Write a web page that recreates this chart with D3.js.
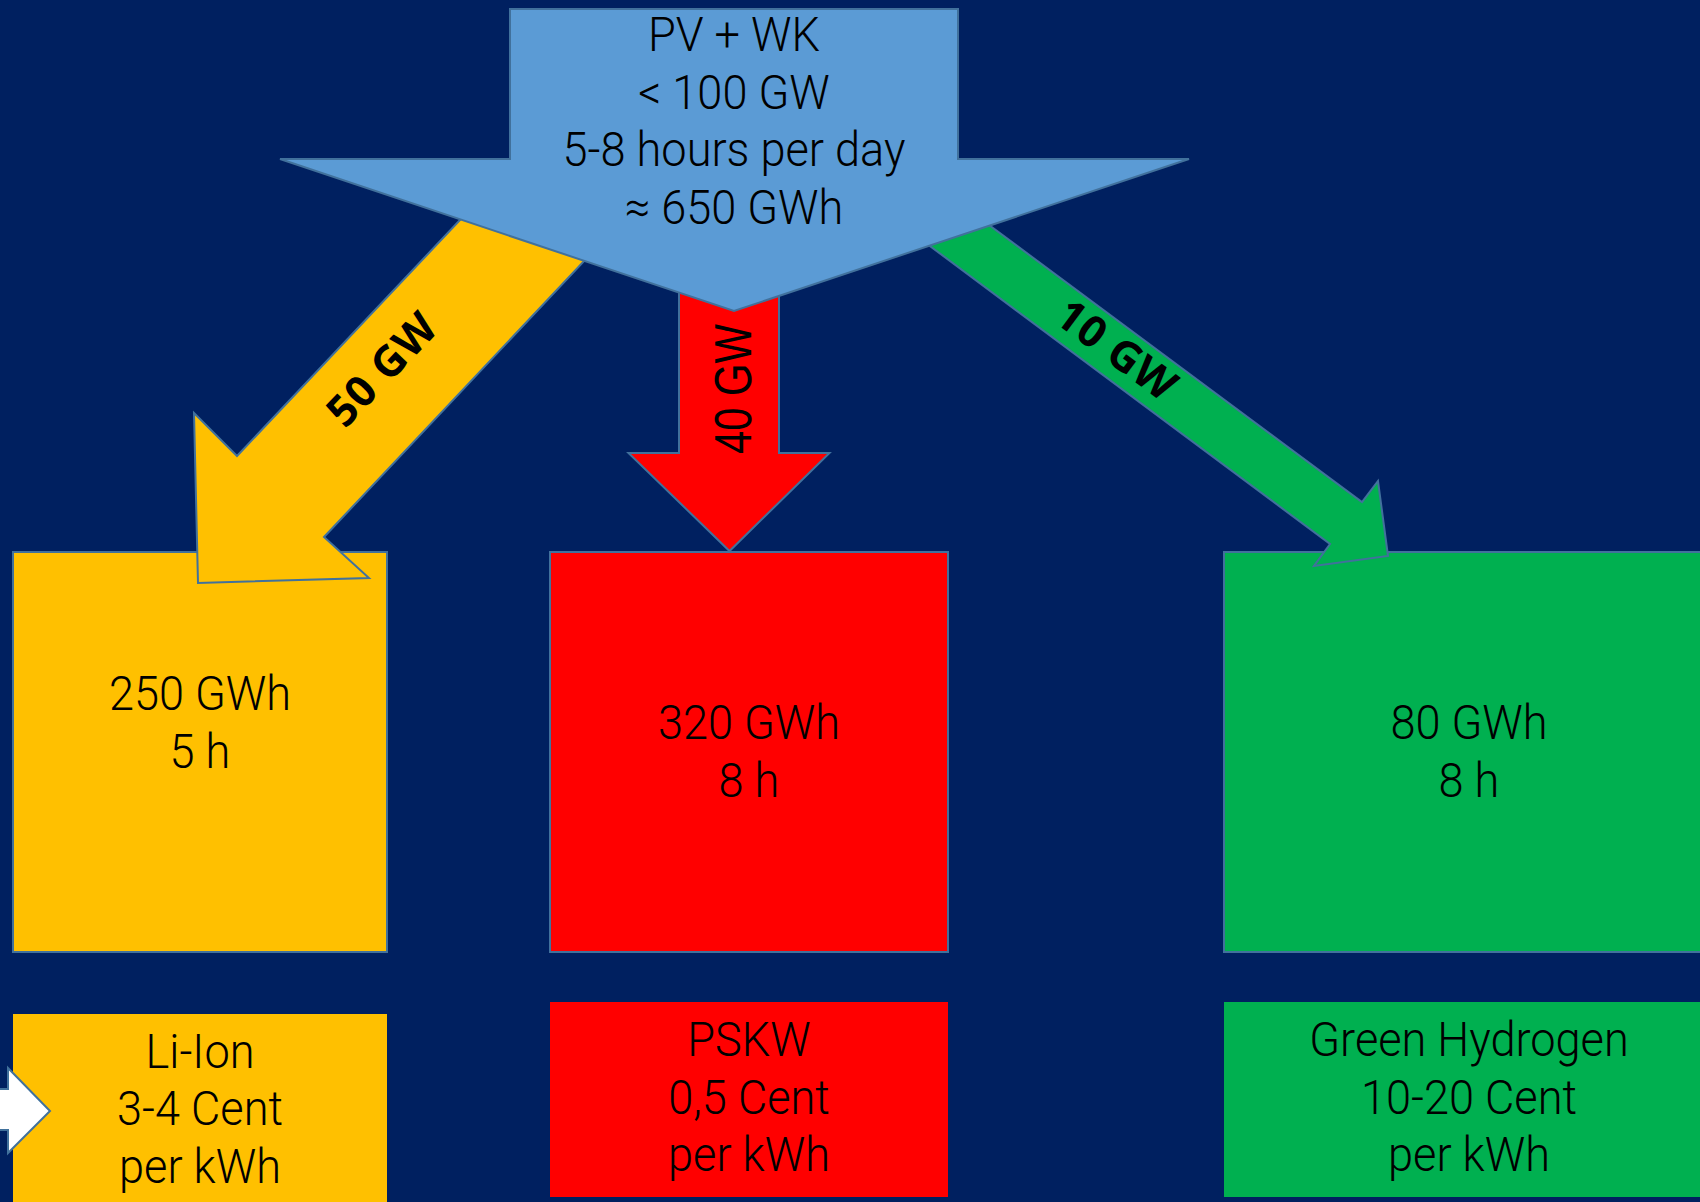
<!DOCTYPE html>
<html>
<head>
<meta charset="utf-8">
<script src="https://cdn.jsdelivr.net/npm/d3@7"></script>
<style>
  html, body { margin: 0; padding: 0; background: #002060; overflow: hidden; }
  svg { display: block; }
</style>
</head>
<body>
<div id="chart"></div>
<script>
// ---- data ----
const sourceLines = ["PV + WK", "< 100 GW", "5-8 hours per day", "≈ 650 GWh"];
const techs = ["Li-Ion", "PSKW", "Green Hydrogen"];
const flowGW = [50, 40, 10];
const storageGWh = [250, 320, 80];
const storageHours = [5, 8, 8];
const costs = ["3-4 Cent", "0,5 Cent", "10-20 Cent"];
const techColors = ["#FFC000", "#FF0000", "#00B050"];

// ---- layout (pixels) ----
const W = 1700, H = 1202;
const outline = "#41719C";
const lineH = 57.5;

const color = d3.scaleOrdinal().domain(techs).range(techColors);
const colX0 = d3.scaleOrdinal().domain(techs).range([13, 550, 1224]);
const colX1 = d3.scaleOrdinal().domain(techs).range([387, 948, 1712]);
const textX = d3.scaleOrdinal().domain(techs).range([200, 749, 1469]);
const storeTextY = d3.scaleOrdinal().domain(techs).range([710, 739, 739]);
const costTop = d3.scaleOrdinal().domain(techs).range([1014, 1002, 1002]);
const costTextY = d3.scaleOrdinal().domain(techs).range([1067.5, 1056, 1056]);

// arrow outlines
const flowShapes = [
  [[494, 184], [237, 456], [194, 413], [198, 583], [369, 578], [324, 537], [618, 225]],
  [[679, 280], [679, 453], [628.5, 453], [729.5, 551], [829.5, 453], [779, 453], [779, 280]],
  [[958, 202], [1362, 502], [1378, 481], [1388, 556], [1314, 566], [1330, 544], [899, 223]]
];
const flowLabel = [
  {x: 382, y: 369, angle: -46.4},
  {x: 733, y: 389, angle: -90},
  {x: 1117, y: 350, angle: 36.6}
];
const sourceShape = [[510, 9], [958, 9], [958, 159], [1189, 159], [734, 311], [280, 159], [510, 159]];
const whiteArrow = [[-5, 1089], [8, 1089], [8, 1068], [50, 1111], [8, 1153], [8, 1130], [-5, 1130]];

const svg = d3.select("#chart").append("svg")
  .attr("width", W)
  .attr("height", H);

svg.append("rect").attr("width", W).attr("height", H).attr("fill", "#002060");

const poly = d3.line();
const shape = pts => poly(pts) + "Z";

function lines(g, arr, cx, y0) {
  arr.forEach((t, i) => {
    g.append("text")
      .attr("transform", `translate(${cx},${y0 + i * lineH}) scale(0.94,1)`)
      .attr("text-anchor", "middle")
      .attr("font-family", "Roboto, 'Noto Sans', sans-serif")
      .attr("font-weight", 300)
      .attr("font-size", 48)
      .attr("fill", "#000")
      .text(t);
  });
}

// storage boxes
const store = svg.append("g");
techs.forEach((t, i) => {
  store.append("rect")
    .attr("x", colX0(t))
    .attr("y", 552)
    .attr("width", colX1(t) - colX0(t))
    .attr("height", 400)
    .attr("fill", color(t))
    .attr("stroke", outline)
    .attr("stroke-width", 2);
  lines(store, [`${storageGWh[i]} GWh`, `${storageHours[i]} h`], textX(t), storeTextY(t));
});

// cost boxes
const cost = svg.append("g");
techs.forEach((t, i) => {
  cost.append("rect")
    .attr("x", colX0(t))
    .attr("y", costTop(t))
    .attr("width", colX1(t) - colX0(t))
    .attr("height", 195)
    .attr("fill", color(t));
  lines(cost, [t, costs[i], "per kWh"], textX(t), costTextY(t));
});

// white arrow at left edge
svg.append("path")
  .attr("d", shape(whiteArrow))
  .attr("fill", "#fff")
  .attr("stroke", outline)
  .attr("stroke-width", 2);

// flow arrows
const flows = svg.append("g");
techs.forEach((t, i) => {
  flows.append("path")
    .attr("d", shape(flowShapes[i]))
    .attr("fill", color(t))
    .attr("stroke", outline)
    .attr("stroke-width", 2)
    .attr("stroke-linejoin", "miter");
  const l = flowLabel[i];
  const txt = flows.append("text")
    .attr("text-anchor", "middle")
    .attr("dy", "0.35em")
    .attr("fill", "#000")
    .text(`${flowGW[i]} GW`);
  if (i === 1) {
    txt.attr("transform", `translate(${l.x},${l.y}) rotate(${l.angle}) scale(0.82,1)`)
      .attr("font-family", "'Liberation Sans', Arial, sans-serif")
      .attr("font-size", 51);
  } else {
    txt.attr("transform", `translate(${l.x},${l.y}) rotate(${l.angle})`)
      .attr("font-family", "'Open Sans', sans-serif")
      .attr("font-weight", 700)
      .attr("font-size", 43)
      .attr("letter-spacing", 1);
  }
});

// source arrow on top
const src = svg.append("g");
src.append("path")
  .attr("d", shape(sourceShape))
  .attr("fill", "#5B9BD5")
  .attr("stroke", outline)
  .attr("stroke-width", 2);
lines(src, sourceLines, 734, 51);
</script>
</body>
</html>
